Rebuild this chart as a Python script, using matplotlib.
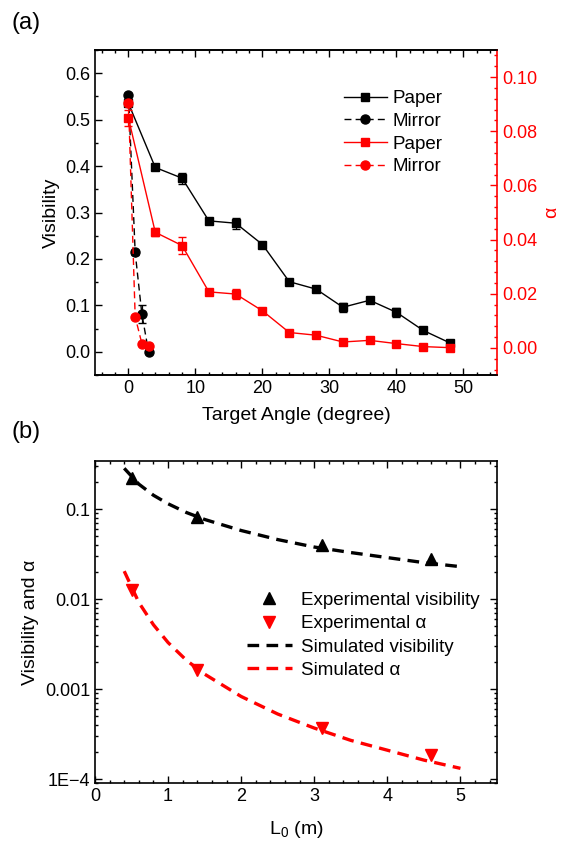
"""Visibility / alpha figure, two panels."""
import matplotlib
matplotlib.use("Agg")
import matplotlib.pyplot as plt
import matplotlib.ticker as mticker
from matplotlib.lines import Line2D

plt.rcParams["font.family"] = ["Liberation Sans", "DejaVu Sans"]
plt.rcParams["mathtext.fontset"] = "custom"
plt.rcParams["mathtext.rm"] = "Liberation Sans"
plt.rcParams["mathtext.it"] = "Liberation Sans:italic"

RED = "#ff0000"

# ---- panel (a) data ----
paper_angle = [0, 4, 8, 12, 16, 20, 24, 28, 32, 36, 40, 44, 48]
paper_vis = [0.535, 0.397, 0.374, 0.282, 0.277, 0.231, 0.151, 0.135, 0.096,
             0.111, 0.085, 0.046, 0.019]
paper_vis_err = [0.005, 0.004, 0.012, 0.004, 0.012, 0.004, 0.004, 0.004, 0.01,
                 0.004, 0.01, 0.004, 0.004]
paper_alpha = [0.0848, 0.0427, 0.0378, 0.0207, 0.0199, 0.0137, 0.0057, 0.0047,
               0.0022, 0.0028, 0.0016, 0.0005, 0.0001]
paper_alpha_err = [0.003, 0.0015, 0.003, 0.0008, 0.002, 0.0008, 0.0006, 0.0005,
                   0.0005, 0.0005, 0.0005, 0.0004, 0.0004]

mirror_angle = [0, 1, 2, 3]
mirror_vis = [0.553, 0.214, 0.081, 0.0]
mirror_vis_err = [0.005, 0.006, 0.02, 0.004]
mirror_alpha = [0.0906, 0.0115, 0.0016, 0.0008]
mirror_alpha_err = [0.001, 0.0005, 0.0004, 0.0004]

# ---- panel (b) data ----
exp_L = [0.5, 1.4, 3.1, 4.6]
exp_vis = [0.221, 0.081, 0.040, 0.028]
exp_alpha = [0.0127, 0.00163, 0.000375, 0.000188]

sim_L = [0.4, 0.6, 0.8, 1.0, 1.25, 1.5, 2.0, 2.5, 3.0, 3.5, 4.0, 4.5, 5.0]
sim_vis = [0.285, 0.19, 0.143, 0.115, 0.092, 0.077, 0.058, 0.046, 0.038,
           0.033, 0.029, 0.0255, 0.023]
sim_alpha = [0.0205, 0.0092, 0.0052, 0.0033, 0.0021, 0.00147, 0.00083,
             0.00053, 0.00037, 0.00027, 0.00021, 0.000163, 0.000132]

logtick_vals = [1e-4, 1e-3, 1e-2, 1e-1]
logtick_labels = ["1E\u22124", "0.001", "0.01", "0.1"]

TICK_FS = 13
LABEL_FS = 14
LEG_FS = 13.5

fig = plt.figure(figsize=(5.61, 8.42), dpi=100)


def style_ticks(ax):
    ax.tick_params(which="both", direction="in", top=True, labelsize=TICK_FS,
                   width=1.0, colors="black")
    ax.tick_params(which="major", length=5)
    ax.tick_params(which="minor", length=2.5)
    for s in ax.spines.values():
        s.set_linewidth(1.2)


# ================= (a) =================
ax = fig.add_axes([0.1693, 0.5546, 0.7166, 0.386])
ax2 = ax.twinx()

ax.errorbar(paper_angle, paper_vis, yerr=paper_vis_err, color="black",
            marker="s", ms=6, lw=1.0, capsize=3, elinewidth=0.9, zorder=3)
ax.errorbar(mirror_angle, mirror_vis, yerr=mirror_vis_err, color="black",
            marker="o", ms=6.5, lw=1.0, ls=(0, (5, 3)), capsize=3,
            elinewidth=0.9, zorder=3)
ax2.errorbar(paper_angle, paper_alpha, yerr=paper_alpha_err, color=RED,
             marker="s", ms=6, lw=1.0, capsize=3, elinewidth=0.9, zorder=3)
ax2.errorbar(mirror_angle, mirror_alpha, yerr=mirror_alpha_err, color=RED,
             marker="o", ms=6.5, lw=1.0, ls=(0, (5, 3)), capsize=3,
             elinewidth=0.9, zorder=3)

ax.set_xlim(-5, 55)
ax.set_ylim(-0.05, 0.65)
ax2.set_ylim(-0.01, 0.11)
ax.xaxis.set_major_locator(mticker.MultipleLocator(10))
ax.xaxis.set_minor_locator(mticker.MultipleLocator(2))
ax.yaxis.set_major_locator(mticker.MultipleLocator(0.1))
ax.yaxis.set_minor_locator(mticker.MultipleLocator(0.05))
ax.yaxis.set_major_formatter(mticker.FormatStrFormatter("%.1f"))
ax2.yaxis.set_major_locator(mticker.MultipleLocator(0.02))
ax2.yaxis.set_minor_locator(mticker.MultipleLocator(0.004))
ax2.yaxis.set_major_formatter(mticker.FormatStrFormatter("%.2f"))

style_ticks(ax)
ax.tick_params(which="both", right=False)
ax2.tick_params(which="both", direction="in", labelsize=TICK_FS, width=1.0,
                colors=RED)
ax2.tick_params(which="major", length=5)
ax2.tick_params(which="minor", length=2.5)
for s in ax2.spines.values():
    s.set_linewidth(1.2)
ax2.spines["right"].set_color(RED)
ax2.spines["left"].set_visible(False)
ax.spines["right"].set_visible(False)

ax.set_xlabel("Target Angle (degree)", fontsize=LABEL_FS, labelpad=7)
ax.set_ylabel("Visibility", fontsize=LABEL_FS, labelpad=4)
ax2.set_ylabel("\u03b1", fontsize=LABEL_FS, color=RED, labelpad=4)

handles_a = [
    Line2D([], [], color="black", marker="s", ms=6, lw=1.0),
    Line2D([], [], color="black", marker="o", ms=6.5, lw=1.0, ls=(0, (5, 3))),
    Line2D([], [], color=RED, marker="s", ms=6, lw=1.0),
    Line2D([], [], color=RED, marker="o", ms=6.5, lw=1.0, ls=(0, (5, 3))),
]
ax2.legend(handles_a, ["Paper", "Mirror", "Paper", "Mirror"], loc="upper left",
           bbox_to_anchor=(0.613, 0.893), bbox_transform=fig.transFigure,
           frameon=False, fontsize=LEG_FS, borderpad=0, borderaxespad=0,
           handlelength=2.3, handletextpad=0.3, labelspacing=0.3)

fig.text(0.02, 0.973, "(a)", fontsize=17, ha="left", va="center")

# ================= (b) =================
bx = fig.add_axes([0.1693, 0.0697, 0.7166, 0.383])
bx.plot(sim_L, sim_vis, color="black", lw=2.4, ls=(0, (3.5, 2.2)), zorder=2,
        label="Simulated visibility")
bx.plot(sim_L, sim_alpha, color=RED, lw=2.4, ls=(0, (3.5, 2.2)), zorder=2,
        label="Simulated \u03b1")
bx.plot(exp_L, exp_vis, ls="none", marker="^", ms=9, color="black", zorder=3,
        label="Experimental visibility")
bx.plot(exp_L, exp_alpha, ls="none", marker="v", ms=9, color=RED, zorder=3,
        label="Experimental \u03b1")

bx.set_yscale("log")
bx.set_xlim(0, 5.5)
bx.set_ylim(9e-5, 0.345)
bx.xaxis.set_major_locator(mticker.MultipleLocator(1))
bx.xaxis.set_minor_locator(mticker.MultipleLocator(0.2))
bx.yaxis.set_major_locator(mticker.FixedLocator(logtick_vals))
bx.yaxis.set_major_formatter(mticker.FixedFormatter(logtick_labels))
bx.yaxis.set_minor_locator(mticker.LogLocator(base=10, subs=range(2, 10)))
bx.yaxis.set_minor_formatter(mticker.NullFormatter())
style_ticks(bx)
bx.tick_params(which="both", right=True)

bx.set_xlabel("L$_0$ (m)", fontsize=LABEL_FS, labelpad=10)
bx.set_ylabel("Visibility and \u03b1", fontsize=LABEL_FS, labelpad=4)

h, l = bx.get_legend_handles_labels()
order = [2, 3, 0, 1]
bx.legend([h[i] for i in order], [l[i] for i in order], loc="upper left",
          bbox_to_anchor=(0.44, 0.297), bbox_transform=fig.transFigure,
          frameon=False, fontsize=LEG_FS, borderpad=0, borderaxespad=0,
          handlelength=2.4, handletextpad=0.5, labelspacing=0.33)

fig.text(0.02, 0.487, "(b)", fontsize=17, ha="left", va="center")

fig.savefig("out.png", dpi=100)
plt.close(fig)
